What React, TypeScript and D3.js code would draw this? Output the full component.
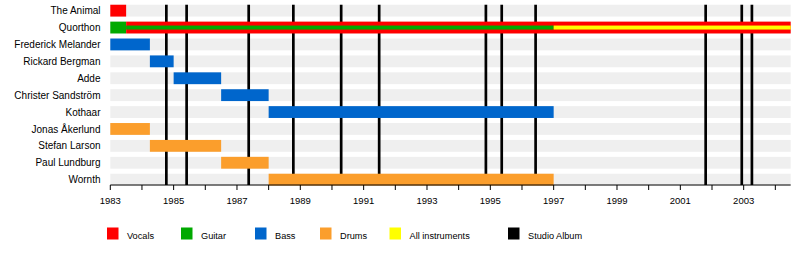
import React from "react";
import * as d3 from "d3";

const members = [
  "The Animal",
  "Quorthon",
  "Frederick Melander",
  "Rickard Bergman",
  "Adde",
  "Christer Sandström",
  "Kothaar",
  "Jonas Åkerlund",
  "Stefan Larson",
  "Paul Lundburg",
  "Wornth",
];

const roles = ["Vocals", "Guitar", "Bass", "Drums", "All instruments"];
const roleColors = ["#ff0000", "#00a900", "#0066cc", "#fb9e2c", "#ffff00"];

// full-width bars: [member, from, to, role]
const fullBars: [string, number, number, string][] = [
  ["The Animal", 1983.0, 1983.5, "Vocals"],
  ["Quorthon", 1983.0, 1983.5, "Guitar"],
  ["Quorthon", 1983.5, 2004.485, "Vocals"],
  ["Frederick Melander", 1983.0, 1984.25, "Bass"],
  ["Rickard Bergman", 1984.25, 1985.0, "Bass"],
  ["Adde", 1985.0, 1986.5, "Bass"],
  ["Christer Sandström", 1986.5, 1988.0, "Bass"],
  ["Kothaar", 1988.0, 1997.0, "Bass"],
  ["Jonas Åkerlund", 1983.0, 1984.25, "Drums"],
  ["Stefan Larson", 1984.25, 1986.5, "Drums"],
  ["Paul Lundburg", 1986.5, 1988.0, "Drums"],
  ["Wornth", 1988.0, 1997.0, "Drums"],
];

// thin overlay bars: [member, from, to, role]
const thinBars: [string, number, number, string][] = [
  ["Quorthon", 1983.5, 1997.0, "Guitar"],
  ["Quorthon", 1997.0, 2004.485, "All instruments"],
];

const studioAlbums = [
  1984.77, 1985.41, 1987.37, 1988.78, 1990.29, 1991.49, 1994.86, 1995.36,
  1996.43, 2001.8, 2002.94, 2003.26,
];

const periodStart = 1983;
const periodEnd = 2004.485;
const minorTickYears = d3.range(1983, 2005, 1);
const labelYears = d3.range(1983, 2004, 2);

const legendItems = ["Vocals", "Guitar", "Bass", "Drums", "All instruments", "Studio Album"];
const legendX = [107, 181, 255, 320, 389.5, 508];

export default function App() {
  const W = 800;
  const H = 265;
  const x = d3.scaleLinear().domain([periodStart, periodEnd]).range([110.3, 790.7]);
  const y = d3
    .scaleBand()
    .domain(members)
    .range([2.2, 188.1])
    .paddingInner(0.3)
    .paddingOuter(0.15);
  const color = d3.scaleOrdinal<string, string>().domain(roles).range(roleColors);
  const bw = y.bandwidth();
  const axisY = 185;
  const font = "'Liberation Sans', Arial, sans-serif";

  return (
    <svg
      width={W}
      height={H}
      style={{ position: "absolute", left: 0, top: 0, background: "#fff" }}
      fontFamily={font}
    >
      {/* background bands */}
      {members.map((m) => (
        <rect key={"bg" + m} x={x(periodStart)} y={y(m)} width={x(periodEnd) - x(periodStart)} height={bw} fill="#efefef" />
      ))}
      {/* studio album lines */}
      {studioAlbums.map((d, i) => (
        <line key={"al" + i} x1={x(d)} x2={x(d)} y1={y(members[0])} y2={axisY} stroke="#000" strokeWidth={2.7} />
      ))}
      {/* bars */}
      {fullBars.map(([m, a, b, r], i) => (
        <rect key={"b" + i} x={x(a)} y={y(m)} width={x(b) - x(a)} height={bw} fill={color(r)} />
      ))}
      {thinBars.map(([m, a, b, r], i) => (
        <rect key={"t" + i} x={x(a)} y={(y(m) as number) + bw / 2 - 2} width={x(b) - x(a)} height={4} fill={color(r)} />
      ))}
      {/* member labels */}
      {members.map((m) => (
        <text key={"lb" + m} x={100.5} y={(y(m) as number) + bw / 2 + 3.6} textAnchor="end" fontSize={10} fill="#000">
          {m}
        </text>
      ))}
      {/* axis */}
      <line x1={x(periodStart)} x2={x(periodEnd)} y1={axisY} y2={axisY} stroke="#000" strokeWidth={1} />
      {minorTickYears.map((yr) => (
        <line key={"tk" + yr} x1={x(yr)} x2={x(yr)} y1={axisY} y2={axisY + 5} stroke="#000" strokeWidth={1} />
      ))}
      {labelYears.map((yr) => (
        <text key={"yl" + yr} x={x(yr)} y={203.5} textAnchor="middle" fontSize={9.5} fill="#000">
          {yr}
        </text>
      ))}
      {/* legend */}
      {legendItems.map((it, i) => (
        <g key={"lg" + it}>
          <rect x={legendX[i]} y={227.5} width={11.5} height={12} fill={i < roles.length ? color(it) : "#000"} />
          <text x={legendX[i] + 20} y={239} fontSize={9.2} fill="#000">
            {it}
          </text>
        </g>
      ))}
    </svg>
  );
}
